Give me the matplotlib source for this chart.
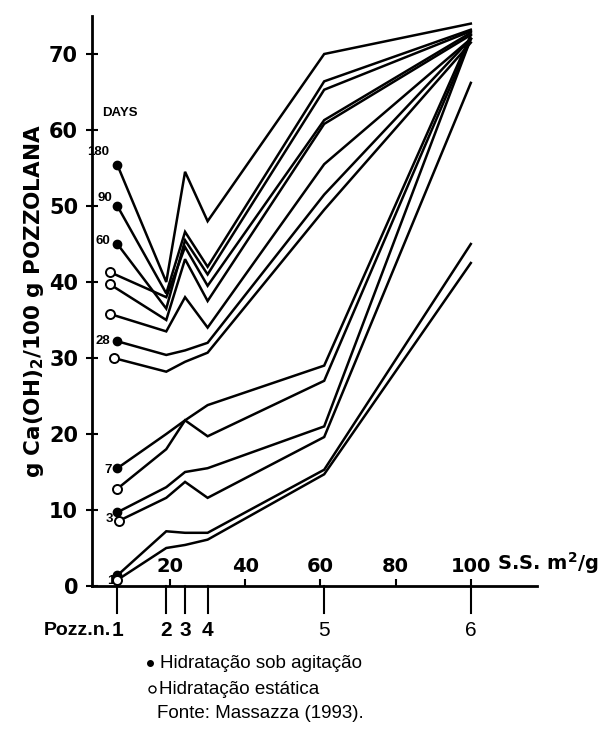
import matplotlib
matplotlib.use("Agg")
import matplotlib.pyplot as plt
from matplotlib.lines import Line2D

plt.rcParams['font.family'] = ['Liberation Sans', 'DejaVu Sans']
BOLD_FAMILY = ['DejaVu Sans']

# specific surface (m2/g) of pozzolanas n.2 .. n.6
ss_rest = [19, 24, 30, 61, 100]
pozz_ss = [6, 19, 24, 30, 61, 100]
pozz_names = ["1", "2", "3", "4", "5", "6"]

days = ["180", "90", "60", "28", "7", "3", "1"]

# first point (pozzolana n.1) of each curve
stirred_x0 = [6, 6, 6, 6, 6, 6, 6]
static_x0 = [4, 4, 4, 5, 6, 6.5, 6]

# g Ca(OH)2 / 100 g pozzolana, pozzolanas n.1 .. n.6
stirred = [
    [55.4, 40.0, 54.5, 48.0, 70.0, 74.0],   # 180 d
    [50.0, 38.5, 46.6, 42.0, 66.4, 73.2],   # 90 d
    [45.0, 36.5, 45.5, 41.0, 65.3, 73.0],   # 60 d
    [32.2, 30.4, 31.0, 32.0, 51.5, 72.0],   # 28 d
    [15.5, 20.0, 21.8, 23.8, 29.0, 72.5],   # 7 d
    [9.7, 13.0, 15.0, 15.5, 21.0, 72.0],    # 3 d
    [1.4, 7.2, 7.0, 7.0, 15.3, 45.0],       # 1 d
]
static = [
    [41.3, 38.0, 44.6, 39.5, 61.3, 72.8],
    [39.7, 35.0, 43.0, 37.5, 60.8, 72.5],
    [35.8, 33.5, 38.0, 34.0, 55.5, 72.0],
    [30.0, 28.2, 29.5, 30.7, 49.5, 71.5],
    [12.8, 18.0, 21.8, 19.7, 27.0, 72.0],
    [8.6, 11.6, 13.7, 11.6, 19.6, 66.2],
    [0.8, 5.0, 5.4, 6.1, 14.7, 42.5],
]

x_ticks = [20, 40, 60, 80, 100]
y_ticks = [0, 10, 20, 30, 40, 50, 60, 70]

# where each day label sits relative to its filled marker (points)
day_offsets = [(-6, 9), (-4, 6), (-5, 2), (-5, 0), (-4, -1), (-3, -5), (-2, -4)]

fig = plt.figure(figsize=(6.01, 7.40), dpi=100)
ax = fig.add_axes([92 / 601, 154 / 740, 445 / 601, 570 / 740])

for i in range(len(days)):
    ax.plot([stirred_x0[i]] + ss_rest, stirred[i], color='black', lw=1.8,
            solid_joinstyle='miter', zorder=3)
    ax.plot([static_x0[i]] + ss_rest, static[i], color='black', lw=1.8,
            solid_joinstyle='miter', zorder=3)
    ax.plot(stirred_x0[i], stirred[i][0], 'o', ms=6, mfc='black',
            mec='black', clip_on=False, zorder=4)
    ax.plot(static_x0[i], static[i][0], 'o', ms=6.5, mfc='white',
            mec='black', mew=1.4, clip_on=False, zorder=4)
    ax.annotate(days[i], (stirred_x0[i], stirred[i][0]),
                xytext=day_offsets[i], textcoords='offset points',
                ha='right', va='center', fontsize=9.5, fontweight='bold')

ax.text(2, 62.3, "DAYS", fontsize=9.5, fontweight='bold', ha='left',
        va='center')

ax.set_xlim(-0.75, 117.6)
ax.set_ylim(0, 75)
for side in ['top', 'right']:
    ax.spines[side].set_visible(False)
ax.spines['left'].set_linewidth(2)
ax.spines['bottom'].set_linewidth(2)

ax.set_yticks(y_ticks)
ax.set_yticklabels([str(v) for v in y_ticks], fontsize=15, fontweight='bold',
                   family=BOLD_FAMILY)
ax.tick_params(axis='y', direction='inout', length=8, width=1.5, pad=6)

ax.set_xticks(x_ticks)
ax.set_xticklabels([])
ax.tick_params(axis='x', direction='in', length=5, width=1.5)
for v in x_ticks:
    ax.text(v, 1.3, str(v), ha='center', va='bottom', fontsize=14,
            fontweight='bold', family=BOLD_FAMILY)
ax.text(107, 1.3, "S.S. m$^\\mathbf{2}$/g", ha='left', va='bottom',
        fontsize=14, fontweight='bold', family=BOLD_FAMILY)

ax.set_ylabel("g Ca(OH)$_\\mathbf{2}$/100 g POZZOLANA", fontsize=15.5,
              fontweight='bold', family=BOLD_FAMILY, labelpad=2)

# pozzolana markers under the axis
for k, (v, name) in enumerate(zip(pozz_ss, pozz_names)):
    ax.add_line(Line2D([v, v], [0, -3.6], color='black', lw=1.5,
                       clip_on=False))
    ax.text(v, -5.8, name, ha='center', va='center', fontsize=15,
            fontweight='bold' if k < 4 else 'normal')
ax.text(pozz_ss[0] - 1.8, -5.8, "Pozz.n.", ha='right', va='center',
        fontsize=14, fontweight='bold')

# key and source
fig.add_artist(Line2D([150 / 601], [1 - 663 / 740], marker='o', ms=4,
                      mfc='black', mec='black', ls='none'))
fig.add_artist(Line2D([152 / 601], [1 - 689 / 740], marker='o', ms=5,
                      mfc='white', mec='black', mew=1, ls='none'))
fig.text(160 / 601, 1 - 663 / 740, "Hidratação sob agitação", fontsize=13.5,
         ha='left', va='center')
fig.text(159 / 601, 1 - 689 / 740, "Hidratação estática", fontsize=13.5,
         ha='left', va='center')
fig.text(157 / 601, 1 - 714 / 740, "Fonte: Massazza (1993).", fontsize=13.5,
         ha='left', va='center')

fig.savefig("out.png", dpi=100)
